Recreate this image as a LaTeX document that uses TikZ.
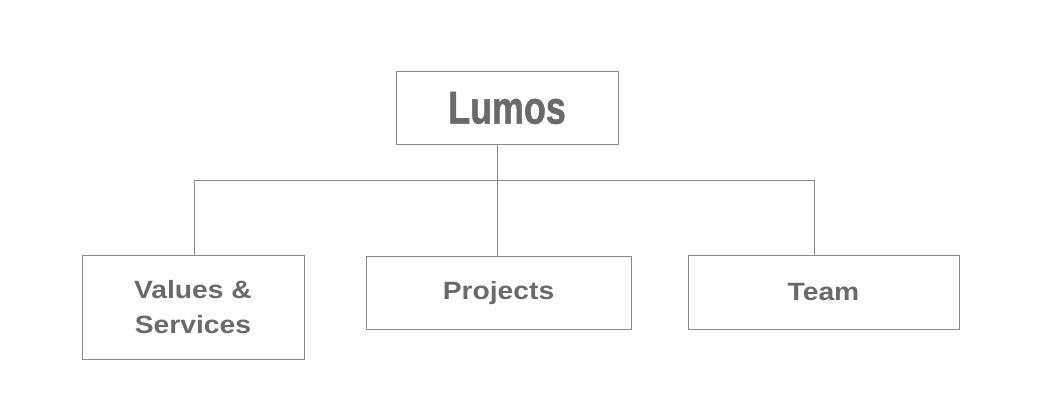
\documentclass[tikz,border=0pt]{standalone}
\usepackage{fontspec}
\usepackage{graphicx}
\setmainfont{Liberation Sans}
\newfontfamily\lumosfont[BoldFeatures={FakeBold=1.3}]{Liberation Sans}
\definecolor{boxline}{HTML}{8A8A8A}
\definecolor{txt}{HTML}{6A6A6A}
\newcommand{\wide}[1]{\scalebox{1.13}[1]{#1}}
\begin{document}
\begin{tikzpicture}[x=1pt,y=-1pt,
  orgbox/.style={draw=boxline,line width=0.9pt,rectangle,inner sep=0pt,text=txt,font=\bfseries\fontsize{25}{35.5}\selectfont,align=center},
  link/.style={draw=boxline,line width=0.9pt}]
\useasboundingbox (0,0) rectangle (1040,404);
\node[orgbox,minimum width=222,minimum height=73] (lumos) at (507,108) {\lumosfont\bfseries\fontsize{46}{50}\selectfont\scalebox{0.78}[1]{Lumos}};
\node[orgbox,minimum width=222,minimum height=104] (values) at (193,307) {\wide{Values \&}\\\wide{Services}};
\node[orgbox,minimum width=265,minimum height=73] (projects) at (498.5,293) {\wide{Projects}};
\node[orgbox,minimum width=271,minimum height=74] (team) at (823.5,292) {\wide{Team}};
\coordinate (jc) at (497,180);
\coordinate (jl) at (194,180);
\coordinate (jr) at (814,180);
\draw[link] (lumos.south -| jc) -- (projects.north -| jc);
\draw[link] (values.north -| jl) -- (jl) -- (jr) -- (team.north -| jr);
\end{tikzpicture}
\end{document}
